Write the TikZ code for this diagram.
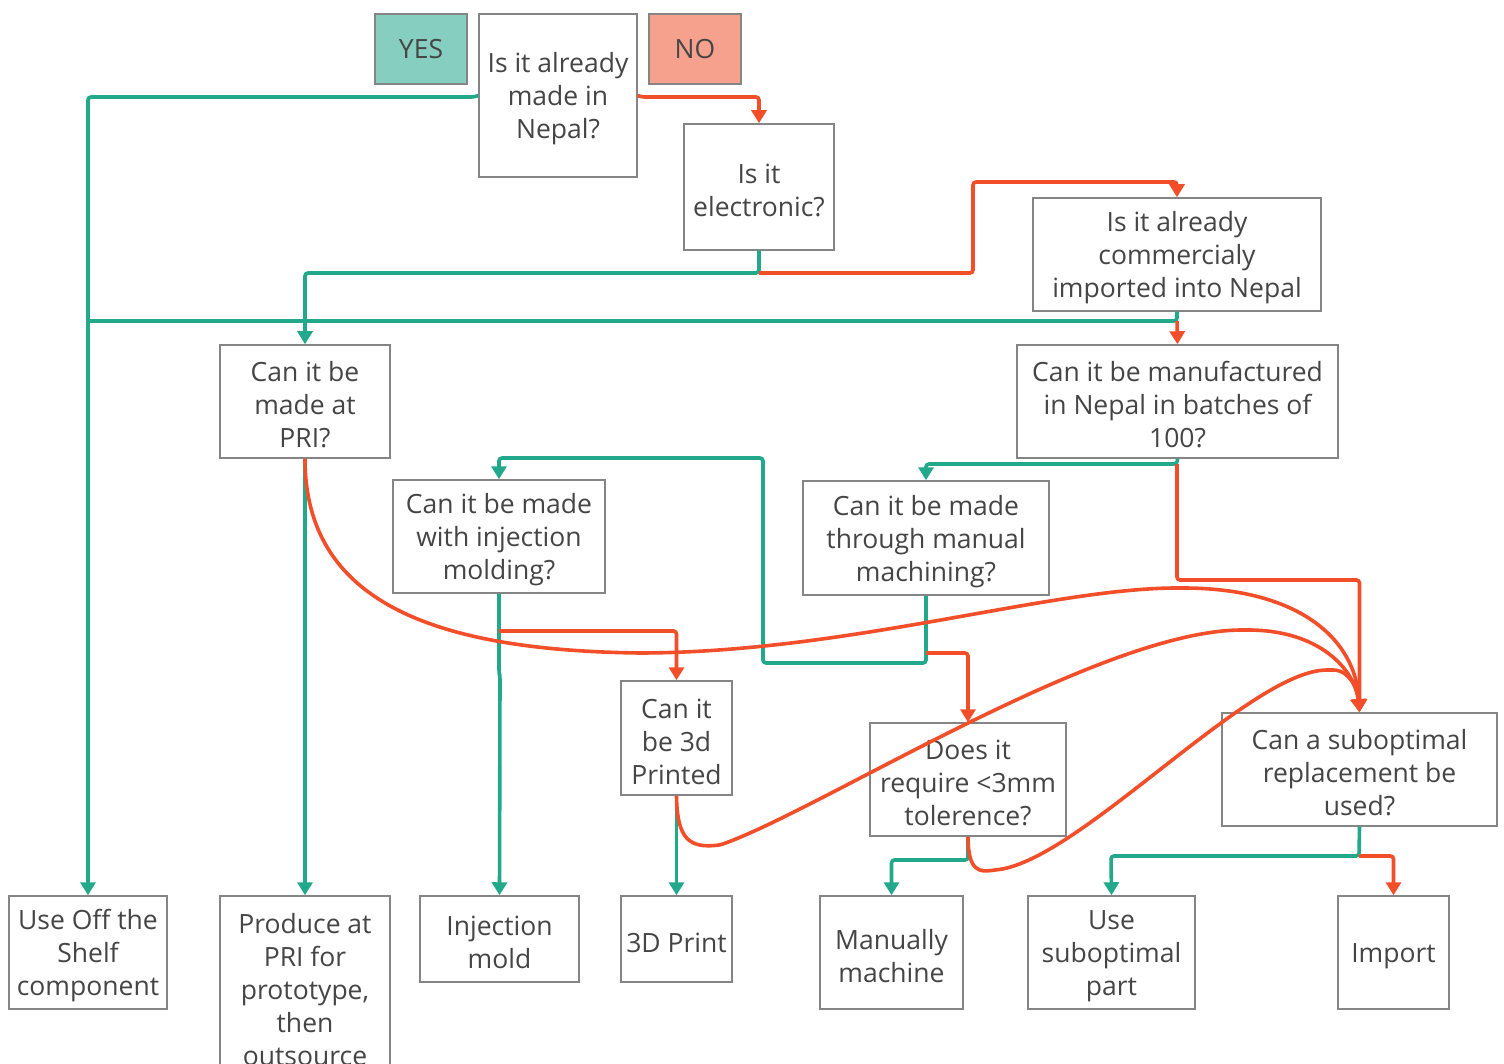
\documentclass[tikz,border=0pt]{standalone}
\usepackage{fontspec}
\setmainfont{Open Sans}
\usetikzlibrary{arrows.meta}
\definecolor{gline}{HTML}{22A98B}
\definecolor{rline}{HTML}{F24E2A}
\definecolor{yesfill}{HTML}{86CEBF}
\definecolor{nofill}{HTML}{F6A08E}
\definecolor{boxgray}{HTML}{858585}
\definecolor{txt}{HTML}{454545}
% \flowbox{name}{center}{width}{height}{text}
\newcommand\flowbox[5]{%
  \node[box, fill=white, minimum width=#3, minimum height=#4] (#1) at #2 {};
  \node[boxtext] (#1-text) at ([yshift=-3.5pt]#1.center) {#5};
}
\begin{document}
\begin{tikzpicture}[x=1pt,y=-1pt,
  box/.style={draw=boxgray, line width=1.5pt, inner sep=0pt},
  boxtext/.style={text=txt, align=center, inner sep=0pt,
    font=\fontsize{26.5}{33}\selectfont},
  conn/.style={line width=3.6pt, rounded corners=3pt},
  gl/.style={conn, draw=gline},
  rl/.style={conn, draw=rline},
  tip/.style={-{Triangle[length=13pt,width=15pt]}}
]
\useasboundingbox (0,0) rectangle (1504,1064);

% legend
\node[box, boxtext, fill=yesfill, minimum width=92pt, minimum height=70pt] (yes) at (421,49) {YES};
\node[box, boxtext, fill=nofill, minimum width=92pt, minimum height=70pt] (no) at (695,49) {NO};

% questions
\flowbox{q1}{(558,95.5)}{158pt}{163pt}{Is it already\\made in\\Nepal?}
\flowbox{q2}{(759,187)}{150pt}{126pt}{Is it\\electronic?}
\flowbox{q3}{(1177,254.5)}{288pt}{113pt}{Is it already\\commercialy\\imported into Nepal}
\flowbox{q4}{(305,401.5)}{170pt}{113pt}{Can it be\\made at\\PRI?}
\flowbox{q5}{(1177.5,401.5)}{321pt}{113pt}{Can it be manufactured\\in Nepal in batches of\\100?}
\flowbox{q6}{(499,536.5)}{212pt}{113pt}{Can it be made\\with injection\\molding?}
\flowbox{q7}{(926,538)}{246pt}{114pt}{Can it be made\\through manual\\machining?}
\flowbox{q8}{(676.5,738)}{111pt}{114pt}{Can it\\be 3d\\Printed}
\flowbox{q9}{(968,779.5)}{196pt}{113pt}{Does it\\require <3mm\\tolerence?}
\flowbox{q10}{(1359.5,769.5)}{275pt}{113pt}{Can a suboptimal\\replacement be\\used?}

% outcomes
\flowbox{shelf}{(88,952.5)}{158pt}{113pt}{Use Off the\\Shelf\\component}
\flowbox{pri}{(305,986)}{170pt}{180pt}{Produce at\\PRI for\\prototype,\\then\\outsource}
\flowbox{injm}{(499.5,939)}{159pt}{86pt}{Injection\\mold}
\flowbox{print}{(676.5,939)}{111pt}{86pt}{3D Print}
\flowbox{mm}{(891.5,952.5)}{143pt}{113pt}{Manually\\machine}
\flowbox{usp}{(1111.5,952.5)}{167pt}{113pt}{Use\\suboptimal\\part}
\flowbox{imp}{(1393.5,952.5)}{111pt}{113pt}{Import}

% junctions
\coordinate (j2) at (759,273);
\coordinate (j3) at (1177,321);
\coordinate (j5) at (1177,464);
\coordinate (j6) at (499,631);
\coordinate (j7) at (926,653);
\coordinate (j10) at (1359,856);

% yes branches
\draw[gl, tip] (q1.west) -- ++(-4,1.5) -- (88,97) -- (shelf.north);
\draw[gl, tip] (q2.south) -- (j2) -| (q4.north);
\draw[gl] (q3.south) -- (j3) -- (88,321);
\draw[gl, tip] (q4.south) -- (pri.north);
\draw[gl, tip] (q5.south) -- (j5) -| (q7.north);
\draw[gl, tip] (q7.south) -- (926,663) -- (763,663) -- (763,458) -| (q6.north);
\draw[gl, tip] (q6.south) -- (499,673) -- (500,676) -- (injm.north);
\draw[gl, tip] (q8.south) -- (print.north);
\draw[gl, tip] (q9.south) -- (968,860) -| (mm.north);
\draw[gl, tip] (q10.south) -- (j10) -- (1111,856) -- (usp.north);

% no branches
\draw[rl, tip] (q1.east) -- ++(4,1.5) -- (759,97) -- (q2.north);
\draw[rl, tip] (j2) -- (973,273) -- (973,182) -| (q3.north);
\draw[rl, tip] (j3) -- (q5.north);
\draw[rl, tip] (j5) -- (1177,580) -| (q10.north);
\draw[rl, tip] (j6) -| (q8.north);
\draw[rl, tip] (j7) -| (q9.north);
\draw[rl, tip] (j10) -| (imp.north);

% curved "no" links into the replacement question
\draw[rl, tip] (q4.south) .. controls (305,600) and (430,650) .. (640,653)
  .. controls (850,652) and (1050,588) .. (1180,588)
  .. controls (1300,588) and (1356,640) .. (q10.north);
\draw[rl, tip] (q8.south) .. controls (677,840) and (690,848) .. (720,845)
  .. controls (820,810) and (1100,630) .. (1245,630)
  .. controls (1320,630) and (1355,670) .. (q10.north);
\draw[rl, tip] (q9.south) .. controls (968,872) and (980,872) .. (995,870)
  .. controls (1080,860) and (1250,670) .. (1330,670)
  .. controls (1350,670) and (1358,690) .. (q10.north);
\end{tikzpicture}
\end{document}
